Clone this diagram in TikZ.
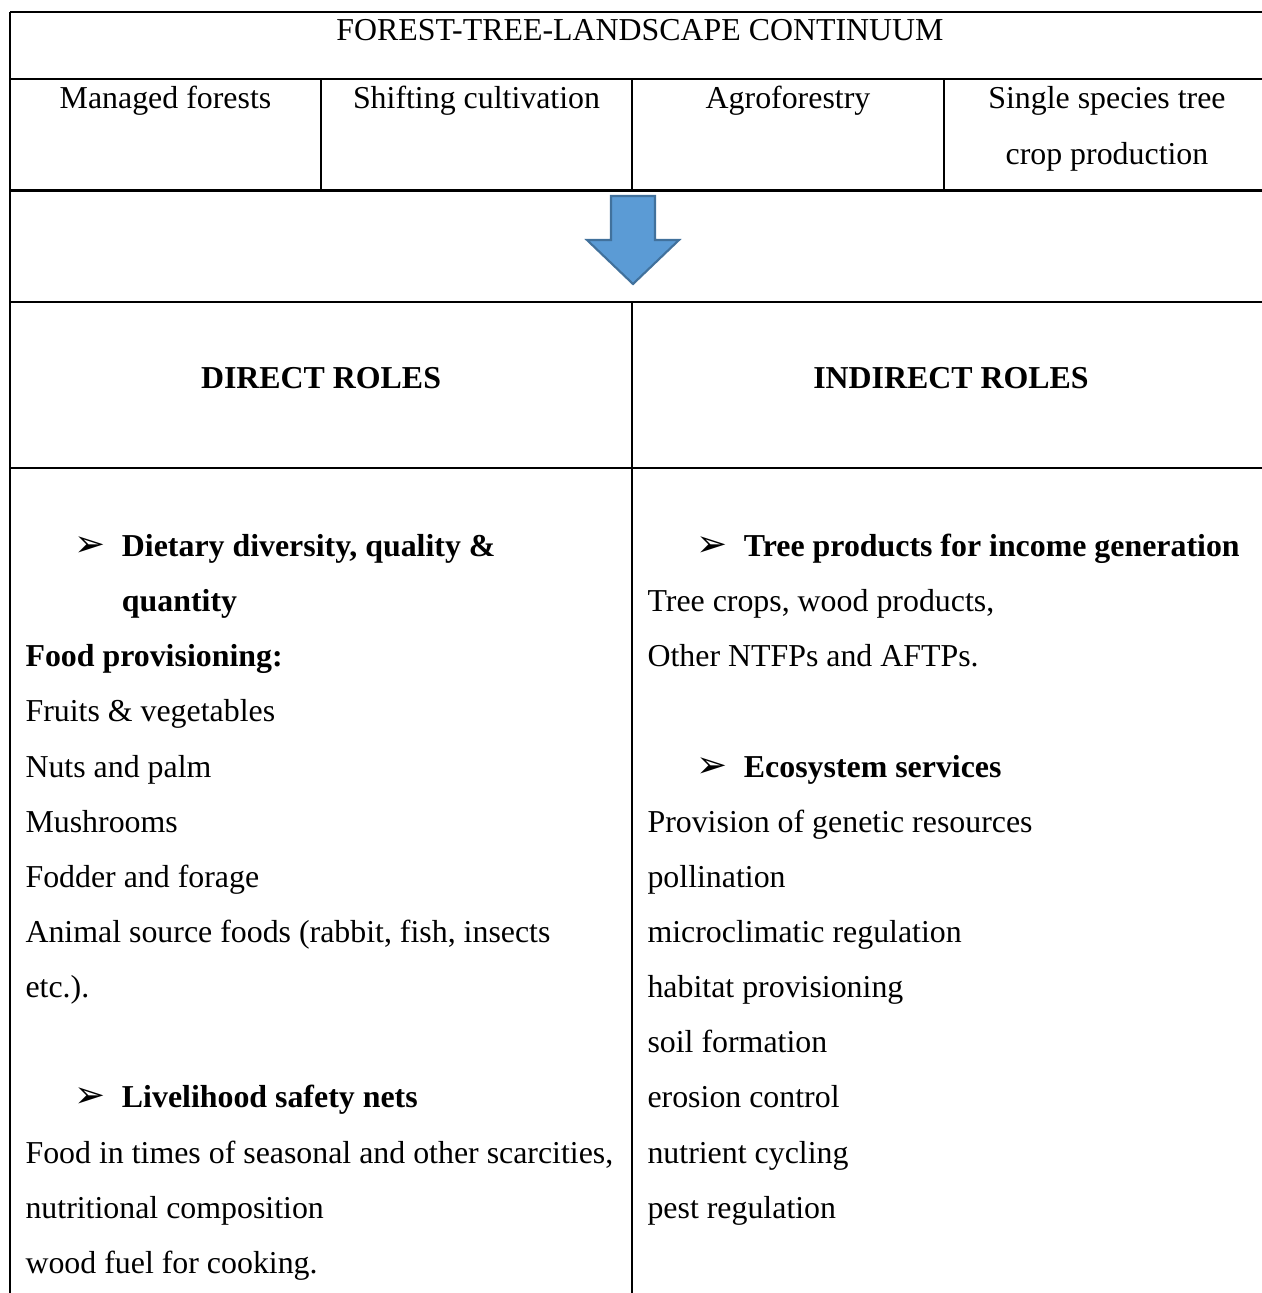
\documentclass[tikz,border=0pt]{standalone}
\usepackage{fontspec}
\setmainfont{Liberation Serif}
\newfontfamily\symfont{DejaVu Sans}
\usetikzlibrary{positioning}
\definecolor{arrowfill}{HTML}{5B9BD5}
\definecolor{arrowline}{HTML}{41719C}
\newcommand{\rolehead}[1]{\hspace*{18.5pt}\makebox[17.8pt][l]{\symfont\fontsize{14}{14}\selectfont ➢}\textbf{#1}}
\newcommand{\firstrow}{\rule{0pt}{14pt}}

\begin{document}
\begin{tikzpicture}[x=0.3765pt,y=-0.3765pt,
        rule line/.style={line width=0.85pt},
        cell/.style={inner sep=0pt,font=\fontsize{12}{20.76}\selectfont},
        head cell/.style={cell,anchor=base},
        list cell/.style={cell,align=left,anchor=north west},
        flow arrow/.style={fill=arrowfill,draw=arrowline,line width=0.8pt,line join=miter}]

    \useasboundingbox (0,0) rectangle (1262,1293);

    \draw[rule line] (10,12) -- (1262,12);
    \draw[rule line] (10,79) -- (1262,79);
    \draw[rule line] (10,190.5) -- (1262,190.5);
    \draw[rule line] (10,302) -- (1262,302);
    \draw[rule line] (10,468) -- (1262,468);
    \draw[rule line] (10,12) -- (10,1293);
    \draw[rule line] (321,79) -- (321,190.5);
    \draw[rule line] (632,79) -- (632,190.5);
    \draw[rule line] (944,79) -- (944,190.5);
    \draw[rule line] (632,302) -- (632,1293);

    \node[head cell] (title) at (640,40) {FOREST-TREE-LANDSCAPE CONTINUUM};
    \node[head cell] (mf) at (165.5,108) {Managed forests};
    \node[head cell] (sc) at (476.5,108) {Shifting cultivation};
    \node[head cell] (af) at (788,108) {Agroforestry};
    \node[cell,align=center,anchor=north] (ss) at (1107,70.8) {\firstrow Single species tree\\[0.4pt]crop production};

    \draw[flow arrow] (611,196) -- (655,196) -- (655,240) -- (679,240) -- (633,284)
        -- (587,240) -- (611,240) -- cycle;

    \node[head cell] (dr) at (321,388) {\textbf{DIRECT ROLES}};
    \node[head cell] (ir) at (951,388) {\textbf{INDIRECT ROLES}};

    \node[list cell] (dlist) at (25,518.8) {\firstrow\rolehead{Dietary diversity, quality \&}\\
        \hspace*{36.3pt}\textbf{quantity}\\
        \textbf{Food provisioning:}\\
        Fruits \& vegetables\\
        Nuts and palm\\
        Mushrooms\\
        Fodder and forage\\
        Animal source foods (rabbit, fish, insects\\
        etc.).\\[20.76pt]
        \rolehead{Livelihood safety nets}\\
        Food in times of seasonal and other scarcities,\\
        nutritional composition\\
        wood fuel for cooking.};

    \node[list cell] (ilist) at (647,518.8) {\firstrow\rolehead{Tree products for income generation}\\
        Tree crops, wood products,\\
        Other NTFPs and AFTPs.\\[20.76pt]
        \rolehead{Ecosystem services}\\
        Provision of genetic resources\\
        pollination\\
        microclimatic regulation\\
        habitat provisioning\\
        soil formation\\
        erosion control\\
        nutrient cycling\\
        pest regulation};
\end{tikzpicture}
\end{document}
